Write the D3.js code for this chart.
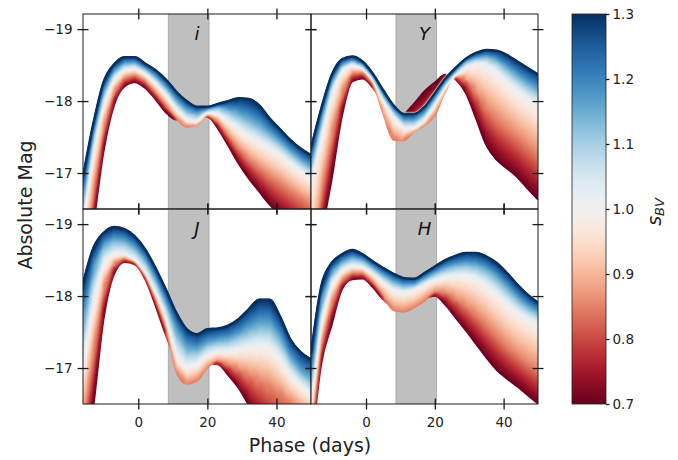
<!DOCTYPE html>
<html><head><meta charset="utf-8">
<script src="https://cdn.jsdelivr.net/npm/d3@7"></script>
<style>
html,body{margin:0;padding:0;background:#fff;}
svg{display:block;font-family:"DejaVu Sans",sans-serif;}
</style></head><body>
<svg id="chart" width="678" height="460"></svg>
<script>
// ---------------- data ----------------
const phases = [-16,-13,-10,-7,-4,-1,2,5,8,11,14,17,20,23,26,29,32,35,38,41,44,47,50];
const sLevels = [0.7, 0.85, 1.0, 1.15, 1.3];

const i_s070 = [-15.2,-16.25,-17.30,-17.94,-18.20,-18.26,-18.18,-18.02,-17.84,-17.74,-17.74,-17.78,-17.78,-17.62,-17.38,-17.13,-16.92,-16.74,-16.56,-16.42,-16.30,-16.18,-16.06];
const i_s085 = [-15.6,-16.7,-17.62,-18.12,-18.32,-18.36,-18.28,-18.12,-17.94,-17.76,-17.64,-17.66,-17.80,-17.72,-17.52,-17.34,-17.19,-17.07,-16.96,-16.86,-16.76,-16.66,-16.56];
const i_s100 = [-16.3,-17.3,-17.95,-18.3,-18.43,-18.45,-18.38,-18.24,-18.08,-17.88,-17.74,-17.71,-17.84,-17.82,-17.71,-17.6,-17.5,-17.42,-17.34,-17.25,-17.13,-17.02,-16.93];
const i_s115 = [-16.6,-17.5,-18.12,-18.41,-18.52,-18.53,-18.45,-18.34,-18.19,-18.01,-17.87,-17.82,-17.88,-17.92,-17.88,-17.82,-17.74,-17.66,-17.55,-17.43,-17.3,-17.18,-17.08];
const i_s130 = [-16.95,-17.69,-18.27,-18.51,-18.61,-18.61,-18.52,-18.43,-18.30,-18.13,-18.00,-17.92,-17.92,-17.96,-18.00,-18.04,-18.03,-17.94,-17.76,-17.61,-17.46,-17.34,-17.25];

const Y_s070 = [-15.0,-16.1,-16.9,-17.78,-18.27,-18.31,-18.18,-17.95,-17.78,-17.82,-17.97,-18.14,-18.26,-18.37,-18.3,-18.11,-17.75,-17.38,-17.18,-17.06,-16.94,-16.78,-16.63];
const Y_s085 = [-15.6,-16.7,-17.5,-18.1,-18.38,-18.4,-18.24,-17.82,-17.46,-17.45,-17.58,-17.66,-17.8,-18.12,-18.34,-18.3,-18.12,-17.9,-17.75,-17.62,-17.5,-17.38,-17.25];
const Y_s100 = [-16.85,-17.48,-18.1,-18.42,-18.5,-18.45,-18.28,-18.0,-17.78,-17.62,-17.62,-17.73,-17.95,-18.18,-18.36,-18.46,-18.52,-18.5,-18.4,-18.26,-18.13,-18.02,-17.92];
const Y_s115 = [-17.1,-17.72,-18.25,-18.5,-18.56,-18.5,-18.34,-18.08,-17.87,-17.73,-17.73,-17.83,-18.03,-18.25,-18.41,-18.55,-18.6,-18.62,-18.57,-18.46,-18.35,-18.24,-18.15];
const Y_s130 = [-17.35,-17.90,-18.36,-18.58,-18.62,-18.55,-18.38,-18.15,-17.94,-17.82,-17.82,-17.92,-18.11,-18.31,-18.46,-18.59,-18.67,-18.71,-18.70,-18.64,-18.55,-18.46,-18.37];

const J_s070 = [-15.5,-16.45,-17.68,-18.30,-18.47,-18.44,-18.23,-17.86,-17.45,-17.1,-16.98,-17.02,-17.06,-17.05,-16.9,-16.72,-16.48,-16.25,-16.05,-15.9,-15.8,-15.7,-15.6];
const J_s085 = [-16.2,-17.2,-18.1,-18.45,-18.52,-18.47,-18.28,-17.95,-17.55,-16.95,-16.78,-16.82,-17.0,-17.1,-17.05,-16.98,-16.9,-16.82,-16.74,-16.64,-16.52,-16.42,-16.32];
const J_s100 = [-17.0,-17.9,-18.45,-18.58,-18.58,-18.5,-18.32,-18.05,-17.7,-17.15,-17.0,-17.05,-17.18,-17.22,-17.22,-17.25,-17.28,-17.3,-17.28,-17.12,-16.9,-16.75,-16.62];
const J_s115 = [-17.6,-18.35,-18.7,-18.78,-18.76,-18.67,-18.5,-18.23,-17.9,-17.52,-17.27,-17.25,-17.34,-17.38,-17.4,-17.46,-17.54,-17.6,-17.6,-17.42,-17.14,-16.95,-16.85];
const J_s130 = [-18.18,-18.67,-18.88,-18.96,-18.93,-18.83,-18.65,-18.39,-18.09,-17.77,-17.54,-17.47,-17.54,-17.55,-17.59,-17.68,-17.82,-17.95,-17.95,-17.72,-17.40,-17.22,-17.12];

const H_s070 = [-15.8,-17.05,-17.59,-18.09,-18.23,-18.24,-18.12,-17.95,-17.86,-17.86,-17.9,-17.96,-18.0,-17.88,-17.7,-17.52,-17.33,-17.14,-16.97,-16.85,-16.74,-16.62,-16.5];
const H_s085 = [-16.0,-17.3,-17.9,-18.22,-18.32,-18.32,-18.2,-18.0,-17.8,-17.78,-17.84,-17.93,-18.06,-18.05,-17.96,-17.86,-17.74,-17.6,-17.45,-17.3,-17.18,-17.07,-16.98];
const H_s100 = [-16.5,-17.6,-18.15,-18.35,-18.42,-18.4,-18.3,-18.18,-18.08,-18.04,-18.08,-18.16,-18.22,-18.26,-18.28,-18.28,-18.24,-18.14,-18.02,-17.88,-17.76,-17.67,-17.6];
const H_s115 = [-16.8,-17.9,-18.32,-18.47,-18.53,-18.5,-18.4,-18.29,-18.2,-18.15,-18.16,-18.24,-18.32,-18.39,-18.43,-18.45,-18.43,-18.37,-18.26,-18.12,-17.97,-17.85,-17.77];
const H_s130 = [-17.2,-18.14,-18.46,-18.58,-18.64,-18.58,-18.48,-18.39,-18.31,-18.25,-18.24,-18.32,-18.41,-18.5,-18.56,-18.6,-18.6,-18.55,-18.46,-18.32,-18.16,-18.02,-17.91];

const shadedPhase = [8.7, 20.5];
const xTicks = [0, 20, 40];
const yTicks = [-19, -18, -17];
const cbarTicks = [0.7, 0.8, 0.9, 1.0, 1.1, 1.2, 1.3];
const xDomain = [-16, 50];
const yDomain = [-19.21, -16.5];
const sDomain = [0.7, 1.3];

// ---------------- layout ----------------
const svg = d3.select("#chart");
svg.append("rect").attr("width",678).attr("height",460).attr("fill","#fff");
const colX = [[83,311],[311,538]];
const rowY = [[14,209],[209,404]];
const panels = [
  {name:"i", col:0, row:0, curves:[i_s070,i_s085,i_s100,i_s115,i_s130]},
  {name:"Y", col:1, row:0, curves:[Y_s070,Y_s085,Y_s100,Y_s115,Y_s130]},
  {name:"J", col:0, row:1, curves:[J_s070,J_s085,J_s100,J_s115,J_s130]},
  {name:"H", col:1, row:1, curves:[H_s070,H_s085,H_s100,H_s115,H_s130]}
];
const tOf = d3.scaleLinear().domain(sDomain).range([0,1]);
const gray = t => { const v = Math.round(Math.max(0,Math.min(1,t))*255); return `rgb(${v},${v},${v})`; };

const defs = svg.append("defs");
// colormap filter: the gray level encodes normalized s; mapped through RdBu
const N = 33;
const cmapSamples = d3.range(N).map(i => d3.rgb(d3.interpolateRdBu(i/(N-1))));
const filt = defs.append("filter").attr("id","cmap")
  .attr("color-interpolation-filters","sRGB")
  .attr("x","-5%").attr("y","-5%").attr("width","110%").attr("height","110%");
filt.append("feGaussianBlur").attr("in","SourceGraphic").attr("stdDeviation",1.3).attr("result","blur");
filt.append("feComponentTransfer").attr("in","blur").attr("result","opaque")
  .append("feFuncA").attr("type","linear").attr("slope",40).attr("intercept",0);
filt.append("feComposite").attr("in","opaque").attr("in2","SourceAlpha").attr("operator","in").attr("result","clipped");
const ctm = filt.append("feComponentTransfer").attr("in","clipped");
ctm.append("feFuncR").attr("type","table").attr("tableValues", cmapSamples.map(c=>(c.r/255).toFixed(4)).join(" "));
ctm.append("feFuncG").attr("type","table").attr("tableValues", cmapSamples.map(c=>(c.g/255).toFixed(4)).join(" "));
ctm.append("feFuncB").attr("type","table").attr("tableValues", cmapSamples.map(c=>(c.b/255).toFixed(4)).join(" "));

const tickLen = 5.5;
function styleAxis(g){
  g.select(".domain").remove();
  g.selectAll(".tick line").attr("stroke","#1a1a1a").attr("stroke-width",1.3);
  g.selectAll(".tick text").attr("fill","#222").attr("font-size","13.5px").attr("font-family","DejaVu Sans, sans-serif");
}

panels.forEach((p, idx) => {
  const [x0,x1] = colX[p.col], [y0,y1] = rowY[p.row];
  const x = d3.scaleLinear().domain(xDomain).range([x0,x1]);
  const y = d3.scaleLinear().domain(yDomain).range([y0,y1]);
  defs.append("clipPath").attr("id","clip"+idx).append("rect")
    .attr("x",x0).attr("y",y0).attr("width",x1-x0).attr("height",y1-y0);
  // segment clips (vertical strips between consecutive phase samples)
  for (let i = 0; i < phases.length-1; i++) {
    const xa = x(phases[i]), xb = x(phases[i+1]);
    defs.append("clipPath").attr("id",`seg${idx}_${i}`).append("rect")
      .attr("x",xa-0.6).attr("y",y0-400).attr("width",xb-xa+1.2).attr("height",y1-y0+800);
  }
  const g = svg.append("g").attr("clip-path",`url(#clip${idx})`);
  // shaded interval
  g.append("rect").attr("x",x(shadedPhase[0])).attr("y",y0-2)
    .attr("width",x(shadedPhase[1])-x(shadedPhase[0])).attr("height",y1-y0+4)
    .attr("fill","rgba(128,128,128,0.5)").attr("stroke","rgba(128,128,128,0.5)").attr("stroke-width",1);

  const line = d3.line().x(d=>x(d.p)).y(d=>y(d.m)).curve(d3.curveMonotoneX);
  const area = d3.area().x(d=>x(d.p)).y0(d=>y(d.a)).y1(d=>y(d.b)).curve(d3.curveMonotoneX);
  const gf = g.append("g").attr("filter","url(#cmap)");
  p.curves.forEach((arr, k) => {
    if (k > 0) {
      const prev = p.curves[k-1];
      const tA = tOf(sLevels[k-1]), tB = tOf(sLevels[k]);
      const d = area(phases.map((ph,i)=>({p:ph, a:prev[i], b:arr[i]})));
      for (let i = 0; i < phases.length-1; i++) {
        const xa = x(phases[i]), xb = x(phases[i+1]), xm = (xa+xb)/2;
        const ya0 = y(prev[i]), yb0 = y(prev[i+1]), ya1 = y(arr[i]), yb1 = y(arr[i+1]);
        const yA = (ya0+yb0)/2, yB = (ya1+yb1)/2;
        const m = ((yb0-ya0) + (yb1-ya1)) / (2*(xb-xa));
        let dl = yB - yA;
        if (Math.abs(dl) < 0.5) dl = dl < 0 ? -0.5 : 0.5;
        const f = dl/(1+m*m);
        const gid = `g${idx}_${k}_${i}`;
        const lg = defs.append("linearGradient").attr("id",gid).attr("gradientUnits","userSpaceOnUse")
          .attr("x1",xm).attr("y1",yA).attr("x2",xm - m*f).attr("y2",yA + f);
        lg.append("stop").attr("offset",0).attr("stop-color",gray(tA));
        lg.append("stop").attr("offset",1).attr("stop-color",gray(tB));
        gf.append("path").attr("d",d).attr("clip-path",`url(#seg${idx}_${i})`).attr("fill",`url(#${gid})`);
      }
    }
    gf.append("path").attr("d", line(phases.map((ph,i)=>({p:ph, m:arr[i]}))))
      .attr("fill","none").attr("stroke", gray(tOf(sLevels[k]))).attr("stroke-width",1.6);
  });
  // top-most curve (drawn last)
  const last = p.curves[p.curves.length-1];
  g.append("path").attr("d", line(phases.map((ph,i)=>({p:ph, m:last[i]}))))
    .attr("fill","none").attr("stroke", d3.interpolateRdBu(tOf(sLevels[sLevels.length-1]))).attr("stroke-width",2.4);

  // panel label
  svg.append("text").attr("x", x(17)).attr("y", p.row===0 ? 40 : 235)
    .attr("text-anchor","middle").attr("font-style","italic").attr("font-size","18px")
    .attr("fill","#111").text(p.name);

  // frame
  svg.append("rect").attr("x",x0).attr("y",y0).attr("width",x1-x0).attr("height",y1-y0)
    .attr("fill","none").attr("stroke","#1a1a1a").attr("stroke-width",1);

  // axes (in-out ticks on all sides)
  const showY = p.col===0, showX = p.row===1;
  const none = () => "";
  svg.append("g").attr("transform",`translate(${x0},0)`)
    .call(d3.axisLeft(y).tickValues(yTicks).tickSizeInner(tickLen).tickSizeOuter(0).tickPadding(5)
      .tickFormat(showY ? d3.format("d") : none)).call(styleAxis);
  svg.append("g").attr("transform",`translate(${x0},0)`)
    .call(d3.axisLeft(y).tickValues(yTicks).tickSizeInner(-tickLen).tickSizeOuter(0).tickFormat(none)).call(styleAxis);
  svg.append("g").attr("transform",`translate(${x1},0)`)
    .call(d3.axisRight(y).tickValues(yTicks).tickSizeInner(tickLen).tickSizeOuter(0).tickFormat(none)).call(styleAxis);
  svg.append("g").attr("transform",`translate(${x1},0)`)
    .call(d3.axisRight(y).tickValues(yTicks).tickSizeInner(-tickLen).tickSizeOuter(0).tickFormat(none)).call(styleAxis);
  svg.append("g").attr("transform",`translate(0,${y1})`)
    .call(d3.axisBottom(x).tickValues(xTicks).tickSizeInner(tickLen).tickSizeOuter(0).tickPadding(8)
      .tickFormat(showX ? d3.format("d") : none)).call(styleAxis);
  svg.append("g").attr("transform",`translate(0,${y1})`)
    .call(d3.axisBottom(x).tickValues(xTicks).tickSizeInner(-tickLen).tickSizeOuter(0).tickFormat(none)).call(styleAxis);
  svg.append("g").attr("transform",`translate(0,${y0})`)
    .call(d3.axisTop(x).tickValues(xTicks).tickSizeInner(tickLen).tickSizeOuter(0).tickFormat(none)).call(styleAxis);
  svg.append("g").attr("transform",`translate(0,${y0})`)
    .call(d3.axisTop(x).tickValues(xTicks).tickSizeInner(-tickLen).tickSizeOuter(0).tickFormat(none)).call(styleAxis);
});

// axis titles
svg.append("text").attr("transform","translate(32,205) rotate(-90)").attr("text-anchor","middle")
  .attr("font-size","19px").attr("fill","#222").text("Absolute Mag");
svg.append("text").attr("x",310).attr("y",451.5).attr("text-anchor","middle")
  .attr("font-size","19px").attr("fill","#222").text("Phase (days)");

// colorbar
const cb = {x:572, y0:14, y1:404, w:34};
const grad = defs.append("linearGradient").attr("id","cbgrad")
  .attr("x1",0).attr("y1",1).attr("x2",0).attr("y2",0);
d3.range(41).forEach(i => grad.append("stop").attr("offset", i/40).attr("stop-color", d3.interpolateRdBu(i/40)));
svg.append("rect").attr("x",cb.x).attr("y",cb.y0).attr("width",cb.w).attr("height",cb.y1-cb.y0)
  .attr("fill","url(#cbgrad)").attr("stroke","#222").attr("stroke-width",0.8);
const cbY = d3.scaleLinear().domain(sDomain).range([cb.y1, cb.y0]);
svg.append("g").attr("transform",`translate(${cb.x+cb.w},0)`)
  .call(d3.axisRight(cbY).tickValues(cbarTicks).tickFormat(d3.format(".1f")).tickSizeInner(3.5).tickSizeOuter(0).tickPadding(3))
  .call(styleAxis);
const sl = svg.append("text").attr("transform","translate(661,212) rotate(-90)").attr("text-anchor","middle")
  .attr("font-size","19px").attr("fill","#222");
sl.append("tspan").attr("font-style","italic").text("s");
sl.append("tspan").attr("font-style","italic").attr("font-size","13px").attr("dy",3).text("BV");
</script>
</body></html>
